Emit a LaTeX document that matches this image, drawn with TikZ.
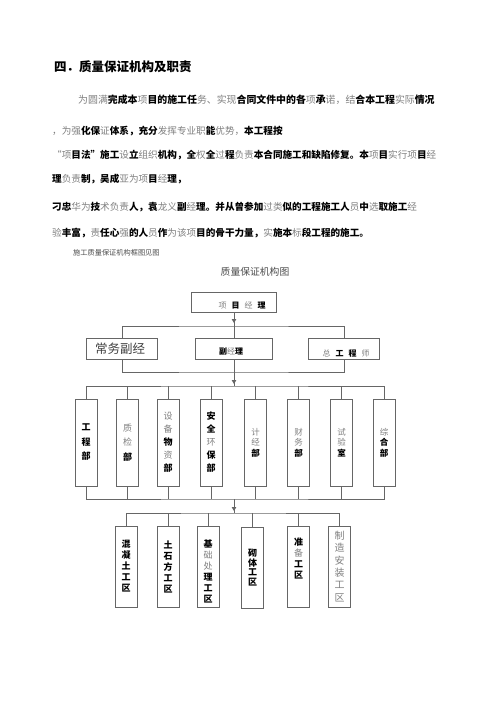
\documentclass[tikz,border=0pt]{standalone}
\usepackage{fontspec}
\setmainfont{Noto Sans CJK SC}
\usetikzlibrary{arrows.meta}
\newcommand\gr[1]{{\color{black!50}\mdseries#1}}
\newcommand\bk[1]{{\color{black}\bfseries#1}}
\begin{document}
\begin{tikzpicture}[x=1pt,y=-1pt,
  box/.style={draw=black!60,line width=0.8pt,fill=white,inner sep=0pt,align=center},
  col/.style={box,minimum width=22pt,minimum height=87pt},
  wrk/.style={box,minimum width=22pt,minimum height=81pt},
  ln/.style={draw=black!60,line width=0.8pt},
  arr/.style={ln,-{Triangle[length=4pt,width=4.5pt]}},
  para/.style={anchor=west,inner sep=0pt,font=\fontsize{9.6}{10}\selectfont},
]
\useasboundingbox (0,0) rectangle (500,708);
\fill[white] (0,0) rectangle (500,708);

% heading and text
\node[anchor=west,inner sep=0pt,font=\fontsize{12.5}{13}\selectfont\bfseries] (title) at (54,67) {四．质量保证机构及职责};
\node[para,font=\fontsize{9.9}{10}\selectfont] (l1) at (78,100) {\gr{为圆满}\bk{完成本}\gr{项}\bk{目的施工任}\gr{务、实现}\bk{合同文件中的各}\gr{项}\bk{承}\gr{诺，结}\bk{合本工程}\gr{实际}\bk{情况}};
\node[para] (l2) at (52,131) {\gr{，为强}\bk{化保}\gr{证}\bk{体系，充分}\gr{发挥专业职}\bk{能}\gr{优势，}\bk{本工程按}};
\node[para] (l3) at (52,155) {\gr{“项}\bk{目法”施工}\gr{设}\bk{立}\gr{组织}\bk{机构，全}\gr{权}\bk{全}\gr{过}\bk{程}\gr{负责}\bk{本合同施工和缺陷修复。本}\gr{项}\bk{目}\gr{实行项}\bk{目}\gr{经}};
\node[para] (l4) at (52,179) {\bk{理}\gr{负责}\bk{制，吴成}\gr{亚为项}\bk{目}\gr{经}\bk{理，}};
\node[para] (l5) at (52,207) {\bk{刁忠}\gr{华为}\bk{技}\gr{术负责}\bk{人，袁}\gr{龙义}\bk{副}\gr{经}\bk{理。并从曾参加}\gr{过类}\bk{似的工程施工人}\gr{员}\bk{中}\gr{选}\bk{取施工}\gr{经}};
\node[para] (l6) at (52,233) {\gr{验}\bk{丰富，}\gr{责}\bk{任心}\gr{强}\bk{的人}\gr{员}\bk{作}\gr{为该项}\bk{目的骨干力量，}\gr{实}\bk{施本}\gr{标}\bk{段工程的施工。}};
\node[anchor=west,inner sep=0pt,font=\fontsize{7.2}{8}\selectfont,text=black!70] (l7) at (73,253) {施工质量保证机构框图见图};
\node[inner sep=0pt,font=\fontsize{9.8}{10}\selectfont,text=black!70] (ct) at (255,272) {质量保证机构图};

% level 1
\node[box,minimum width=85pt,minimum height=20pt] (pm) at (234,302) {};
\node[inner sep=0pt,font=\fontsize{8}{9}\selectfont] (pmt) at (242,305) {\gr{项}\hspace{5pt}\bk{目}\hspace{5pt}\gr{经}\hspace{5pt}\bk{理}};

% level 2
\node[box,minimum width=71pt,minimum height=21pt] (r2a) at (122,348.5) {};
\node[inner sep=0pt,font=\fontsize{12.5}{13}\selectfont,text=black!75] (r2at) at (120,349) {常务副经};
\node[box,minimum width=77pt,minimum height=21pt] (r2b) at (234,348.5) {};
\node[inner sep=0pt,font=\fontsize{8}{9}\selectfont] (r2bt) at (231,352) {\bk{副}\gr{经}\bk{理}};
\node[box,minimum width=71pt,minimum height=21pt] (r2c) at (344,348.5) {};
\node[inner sep=0pt,font=\fontsize{8}{9}\selectfont] (r2ct) at (346,353) {\gr{总}\hspace{5pt}\bk{工}\hspace{5pt}\bk{程}\hspace{5pt}\gr{师}};

\coordinate (h1) at (234,326);
\coordinate (t1) at (234,323);
\coordinate (h2) at (234,372);
\draw[ln] (pm.south) -- (r2b.north);
\draw[arr] (pm.south) -- (t1);
\draw[ln] (r2a.north) |- (h1) -| (r2c.north);
\draw[ln] (r2a.south) |- (h2) -| (r2c.south);
\draw[ln] (r2b.south) -- (h2);

% level 3
\begin{scope}[every node/.append style={font=\fontsize{9}{14.5}\selectfont}]
\node[col] (b1) at (86,442.5) {\bk{工}\\\bk{程}\\\bk{部}};
\node[col] (b2) at (127.5,442.5) {\gr{质}\\\gr{检}\\\bk{部}};
\node[col,font=\fontsize{9}{13}\selectfont] (b3) at (168,442.5) {\gr{设}\\\gr{备}\\\bk{物}\\\gr{资}\\\bk{部}};
\node[col,font=\fontsize{9}{13}\selectfont] (b4) at (211,442.5) {\bk{安}\\\bk{全}\\\gr{环}\\\bk{保}\\\bk{部}};
\end{scope}
\begin{scope}[every node/.append style={font=\fontsize{8.5}{10.5}\selectfont}]
\node[col] (b5) at (255.5,442.5) {\gr{计}\\\gr{经}\\\bk{部}};
\node[col] (b6) at (298.5,442.5) {\gr{财}\\\gr{务}\\\bk{部}};
\node[col] (b7) at (341.5,442.5) {\gr{试}\\\gr{验}\\\bk{室}};
\node[col] (b8) at (384,442.5) {\gr{综}\\\bk{合}\\\bk{部}};
\end{scope}

\coordinate (h3) at (234,386);
\coordinate (t2) at (234,384);
\coordinate (h4) at (234,499);
\draw[ln] (h2) -- (h3);
\draw[arr] (h2) -- (t2);
\draw[ln] (b1.north) |- (h3) -| (b8.north);
\foreach \n in {b2,b3,b4,b5,b6,b7} \draw[ln] (\n.north) -- (\n.north |- h3);
\draw[ln] (b1.south) |- (h4) -| (b8.south);
\foreach \n in {b2,b3,b4,b5,b6,b7} \draw[ln] (\n.south) -- (\n.south |- h4);

% level 4
\begin{scope}[every node/.append style={font=\fontsize{9}{11}\selectfont}]
\node[wrk] (c1) at (126,566.5) {\bk{混}\\\bk{凝}\\\bk{土}\\\bk{工}\\\bk{区}};
\node[wrk] (c2) at (168,566.5) {\bk{土}\\\bk{石}\\\bk{方}\\\bk{工}\\\bk{区}};
\node[wrk] (c3) at (208,566.5) {};
\node[inner sep=0pt,align=center] (c3t) at (208,571) {\bk{基}\\\gr{础}\\\gr{处}\\\bk{理}\\\bk{工}\\\bk{区}};
\node[wrk,font=\fontsize{9}{9.5}\selectfont] (c4) at (252.5,567.5) {\bk{砌}\\\bk{体}\\\bk{工}\\\bk{区}};
\node[wrk] (c5) at (298.5,566.5) {};
\node[inner sep=0pt,align=center] (c5t) at (298.5,558.5) {\bk{准}\\\gr{备}\\\bk{工}\\\bk{区}};
\node[wrk,font=\fontsize{10}{12.3}\selectfont] (c6) at (339.5,566.5) {\gr{制}\\\gr{造}\\\gr{安}\\\gr{装}\\\gr{工}\\\gr{区}};
\end{scope}

\coordinate (h5) at (234,513);
\coordinate (t3) at (234,511);
\draw[ln] (h4) -- (h5);
\draw[arr] (h4) -- (t3);
\draw[ln] (c1.north) |- (h5) -| (c6.north);
\foreach \n in {c2,c3,c4,c5} \draw[ln] (\n.north) -- (\n.north |- h5);
\end{tikzpicture}
\end{document}
